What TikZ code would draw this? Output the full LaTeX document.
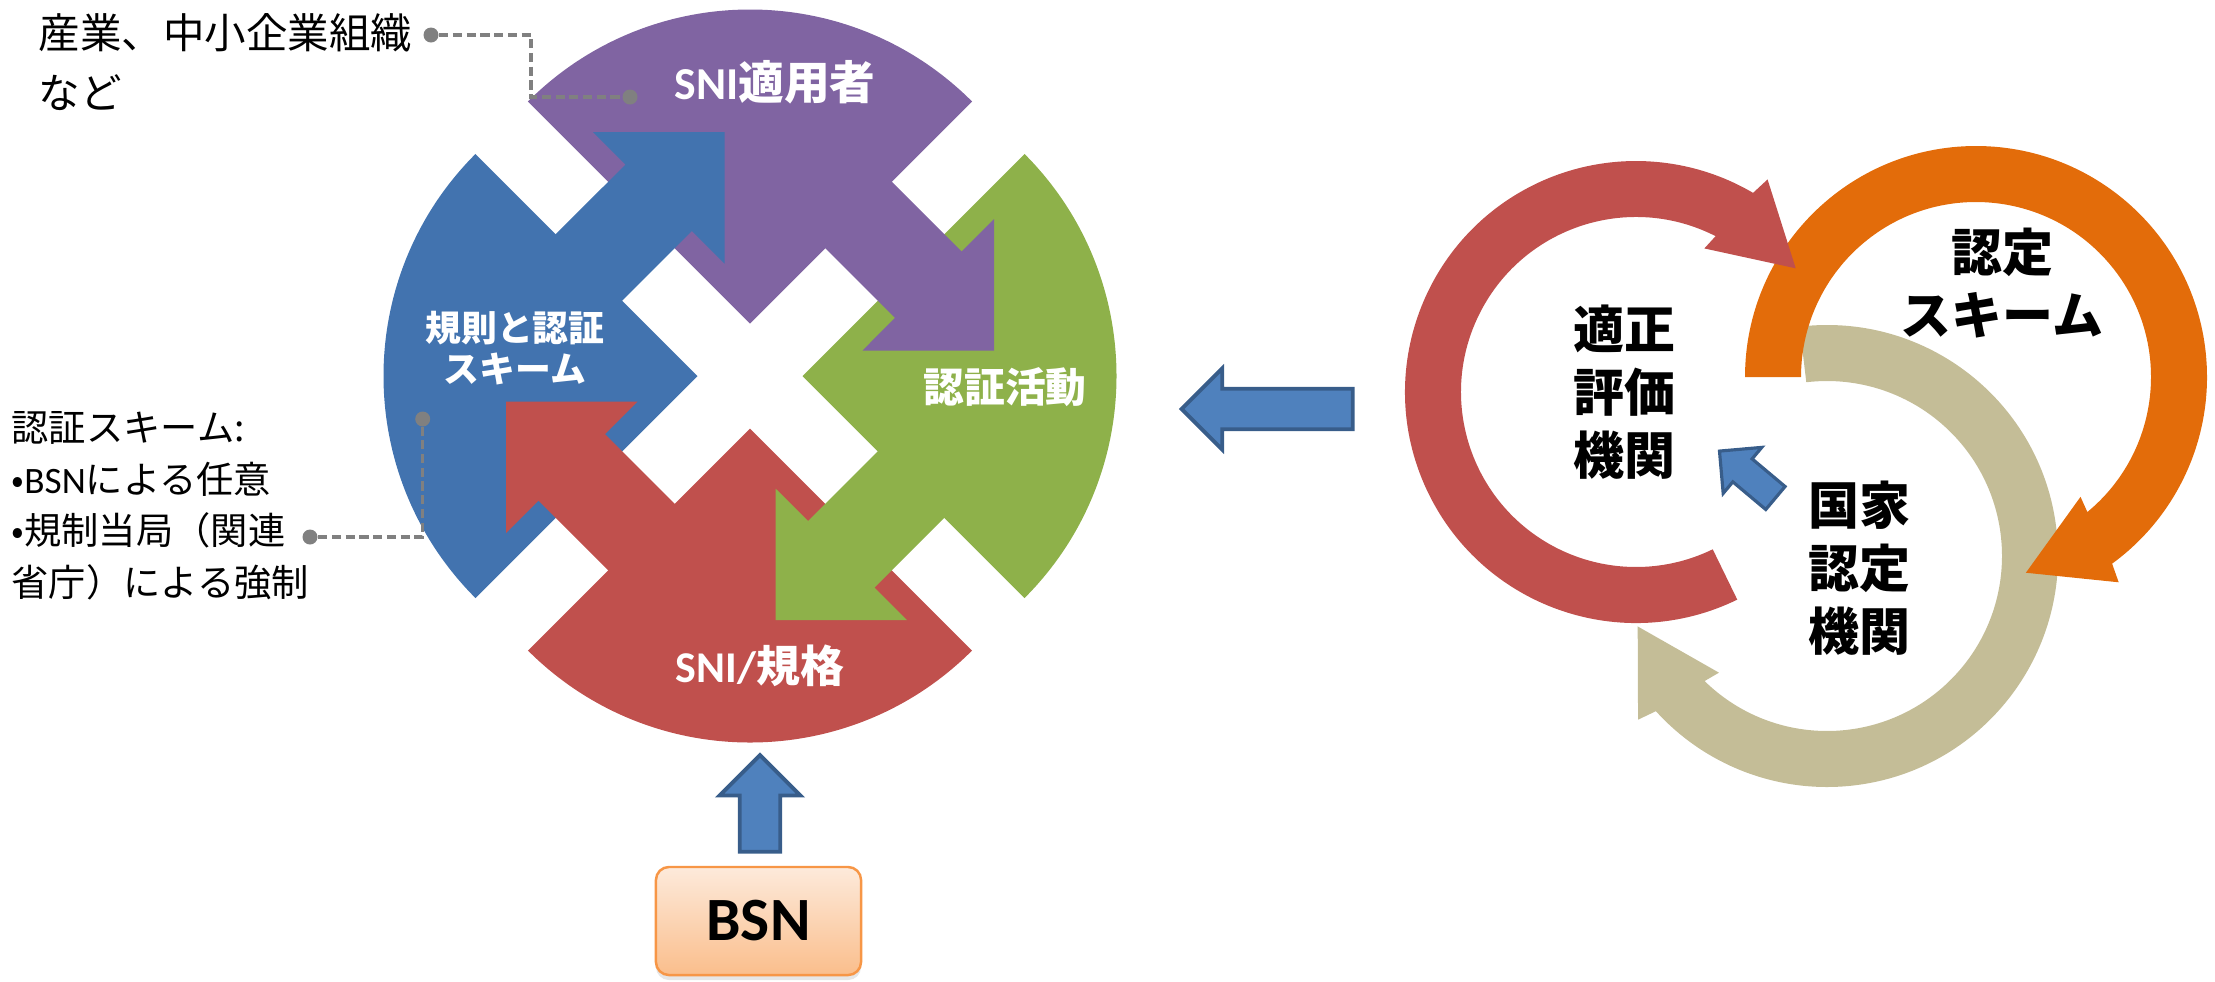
\documentclass[tikz,border=0pt]{standalone}
\usepackage{fontspec}
\setmainfont{Noto Sans CJK JP}
\newfontfamily\calibri{Carlito}
\usetikzlibrary{
  positioning,
  calc,
  shadows
}

\definecolor{pieceblue}{RGB}{66,115,175}
\definecolor{piecepurple}{RGB}{128,100,162}
\definecolor{piecegreen}{RGB}{142,177,74}
\definecolor{piecered}{RGB}{192,80,77}
\definecolor{ringorange}{RGB}{227,108,10}
\definecolor{ringtan}{RGB}{196,189,151}
\definecolor{arrowfill}{RGB}{79,129,189}
\definecolor{arrowedge}{RGB}{56,93,138}
\definecolor{leadergray}{RGB}{128,128,128}
\definecolor{bsnedge}{RGB}{247,150,70}
\definecolor{bsntop}{RGB}{253,234,219}
\definecolor{bsnbottom}{RGB}{250,190,140}

\tikzset{
  blockarr/.style={fill=arrowfill, draw=arrowedge, line width=1.1pt, line join=miter},
  leader/.style={draw=leadergray, line width=0.9pt, dash pattern=on 2.6pt off 1.3pt},
  dot/.style={circle, fill=leadergray, inner sep=0pt, minimum size=0.15cm},
  inlabel/.style={text=white, align=center, inner sep=0pt},
  ringlabel/.style={align=center, inner sep=0pt, font=\bfseries\fontsize{14.5}{18}\selectfont},
  note/.style={align=left, inner sep=0pt, anchor=north west},
  bsnbox/.style={draw=bsnedge, line width=0.7pt, rounded corners=0.13cm,
    top color=bsntop, bottom color=bsnbottom,
    drop shadow={opacity=0.2, shadow xshift=0pt, shadow yshift=-0.05cm},
    minimum width=2.05cm, minimum height=1.08cm,
    font=\calibri\bfseries\fontsize{17.5}{20}\selectfont}
}

% block arrow: [style], tail point, direction, length, head width
\newcommand{\blockarrow}[5][]{%
  \draw[blockarr, #1, shift={#2}, rotate=#3]
    (0,{-#5/4}) -- ({#4-#5/2},{-#5/4}) -- ({#4-#5/2},{-#5/2}) -- (#4,0)
    -- ({#4-#5/2},{#5/2}) -- ({#4-#5/2},{#5/4}) -- (0,{#5/4}) -- cycle;}

% ring arrow: colour, centre, tail angle, head angle (clockwise)
\newcommand{\ringarrow}[4]{%
  \fill[#1, shift={#2}]
    (#3:231) arc[start angle=#3, end angle={#4-1.7}, radius=231]
    -- ({#4-3}:250) -- ({#4-23.5}:202) -- ({#4+3.3}:159) -- ({#4+1.7}:175)
    arc[start angle={#4+1.7}, end angle=#3, radius=175] -- cycle;}

\begin{document}
\begin{tikzpicture}[x=0.01cm, y=0.01cm]
  \useasboundingbox (0,0) rectangle (2215,-981);

  % four pieces, each with its arrow
  \begin{scope}[shift={(750,-376)}]
    \foreach \col/\rot in {pieceblue/0, piecepurple/-90, piecegreen/-180, piecered/-270}
      \fill[\col, rotate=\rot] (-52.5,0) -- ++(135:314)
        arc[start angle=135, end angle=225, radius=314] -- cycle;
    \foreach \col/\rot in {pieceblue/0, piecepurple/-90, piecegreen/-180, piecered/-270}
      \fill[\col, rotate=\rot] (-186.4,16.7) -- (-58.1,145) -- (-25.5,112.5)
        -- (-25.5,244) -- (-157,244) -- (-124.5,211.5) -- (-252.9,83.2) -- cycle;
  \end{scope}

  \node[inlabel, font=\bfseries\fontsize{13}{15}\selectfont]  (user)     at (775,-82)  {{\calibri SNI}適用者};
  \node[inlabel, font=\bfseries\fontsize{10.2}{11.5}\selectfont] (rules) at (515,-348) {規則と認証\\スキーム};
  \node[inlabel, font=\bfseries\fontsize{11.6}{14}\selectfont] (activity) at (1005,-387) {認証活動};
  \node[inlabel, font=\bfseries\fontsize{12.5}{15}\selectfont] (standard) at (760,-666) {{\calibri SNI/}規格};

  % notes on the left
  \node[note, font=\fontsize{11.8}{17}\selectfont] (orgs) at (38,-13) {産業、中小企業組織\\など};
  \node[note, font=\fontsize{10.6}{14.65}\selectfont] (schemes) at (11,-411)
    {認証スキーム:\\•{\calibri BSN}による任意\\•規制当局（関連\\省庁）による強制};

  \node[dot] (orgdot)    at (431,-35)     {};
  \node[dot] (userdot)   at (630,-97)     {};
  \node[dot] (schemedot) at (310,-537)    {};
  \node[dot] (rulesdot)  at (422.7,-419)  {};
  \draw[leader] (orgdot) -- (531,-35) |- (userdot);
  \draw[leader] (schemedot) -| (rulesdot);

  % BSN
  \node[bsnbox] (bsn) at (758.5,-921) {BSN};
  \blockarrow{($(bsn.north)+(1.5,14)$)}{90}{96.7}{81}

  % three bodies
  \ringarrow{ringtan}{(1827,-556)}{96.8}{-136.1}
  \ringarrow{ringorange}{(1976,-377)}{180}{-52.2}
  \ringarrow{piecered}{(1636,-392)}{-64}{-298.75}

  \node[ringlabel] (scheme) at (2002,-283) {認定\\スキーム};
  \node[ringlabel] (cab)    at (1624,-392) {適正\\評価\\機関};
  \node[ringlabel] (nab)    at (1859,-568) {国家\\認定\\機関};

  \blockarrow[line width=0.9pt]{(1775.4,-498)}{140}{73}{60}
  \blockarrow{(1352.7,-409)}{180}{171}{81}
\end{tikzpicture}
\end{document}
